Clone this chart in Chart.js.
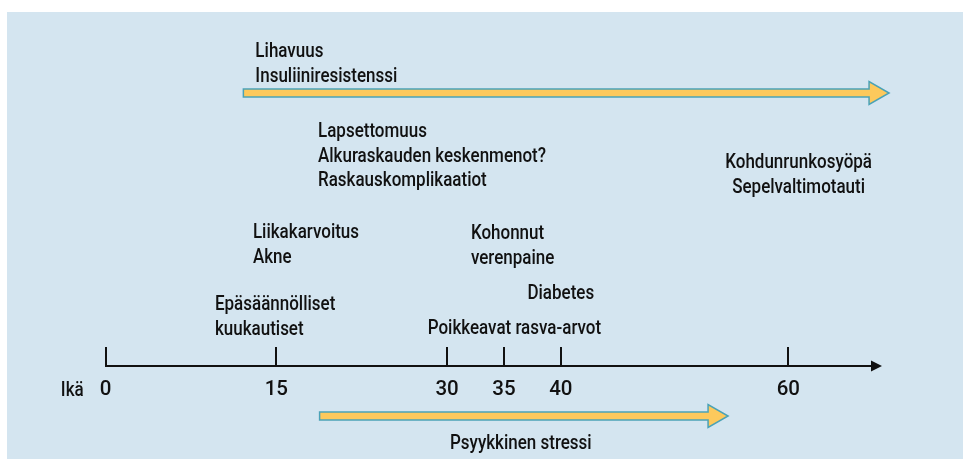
<!DOCTYPE html>
<html><head><meta charset="utf-8">
<script src="https://cdn.jsdelivr.net/npm/chart.js@4/dist/chart.umd.min.js"></script>
<style>html,body{margin:0;padding:0;background:#fff}#wrap{width:963px;height:459px;position:relative}</style>
</head><body><div id="wrap"><canvas id="c"></canvas></div>
<script>
// ---------- DATA ----------
const tickAges = [0, 15, 30, 35, 40, 60];
const axisTitle = 'Ikä';
const axisMaxAge = 67.35;

const arrowLabels = [['Lihavuus', 'Insuliiniresistenssi'], ['Psyykkinen stressi']];
const arrowStartAges = [12.1, 18.8];
const arrowEndAges = [68.85, 54.7];

const eventLabels = [
  ['Lapsettomuus', 'Alkuraskauden keskenmenot?', 'Raskauskomplikaatiot'],
  ['Kohdunrunkosyöpä', 'Sepelvaltimotauti'],
  ['Liikakarvoitus', 'Akne'],
  ['Kohonnut', 'verenpaine'],
  ['Diabetes'],
  ['Epäsäännölliset', 'kuukautiset'],
  ['Poikkeavat rasva-arvot']
];
const eventAges = [18.66, 60.9, 12.94, 32.1, 40.0, 9.6, 28.3];

// ---------- LAYOUT / STYLE ----------
const FONT = 'Roboto, "Liberation Sans", sans-serif';
const FONT_SIZE = 20.5;
const FONT_WEIGHT = 500;
const LINE_H = 24.5;
const TEXT_COLOR = '#111111';
const CALIB_TEXT = 'Alkuraskauden keskenmenot?';
const CALIB_WIDTH = 228; // condensed look of the original typeface
const L = {
  panel: { x: 7, y: 12, color: '#d4e5f0' },
  axisY: 366,
  arrowY: [93, 416],
  arrowLabelBaseline: [57, 449],
  arrowLabelAlign: ['left', 'center'],
  eventAlign: ['left', 'center', 'left', 'left', 'center', 'left', 'left'],
  eventBaseline: [137, 168, 238, 239, 299, 310, 334],
  arrowFill: '#fdc95c',
  arrowStroke: '#4ba2b7'
};
let textScaleX = 1;

const bgPlugin = {
  id: 'bg',
  beforeDraw(chart) {
    const { ctx, width, height } = chart;
    ctx.save();
    ctx.fillStyle = '#ffffff';
    ctx.fillRect(0, 0, width, height);
    ctx.fillStyle = L.panel.color;
    ctx.fillRect(L.panel.x, L.panel.y, width - L.panel.x, height - L.panel.y);
    ctx.restore();
  }
};

function drawArrow(ctx, x0, x1, y) {
  const sh = 4, hh = 11.5, hl = 20;
  ctx.beginPath();
  ctx.moveTo(x0, y - sh);
  ctx.lineTo(x1 - hl, y - sh);
  ctx.lineTo(x1 - hl, y - hh);
  ctx.lineTo(x1, y);
  ctx.lineTo(x1 - hl, y + hh);
  ctx.lineTo(x1 - hl, y + sh);
  ctx.lineTo(x0, y + sh);
  ctx.closePath();
  ctx.fillStyle = L.arrowFill;
  ctx.fill();
  ctx.lineWidth = 1.5;
  ctx.strokeStyle = L.arrowStroke;
  ctx.lineJoin = 'miter';
  ctx.stroke();
}

function drawBlock(ctx, lines, x, align, baseline) {
  ctx.textAlign = align;
  ctx.textBaseline = 'alphabetic';
  lines.forEach((t, i) => {
    ctx.save();
    ctx.translate(x, baseline + i * LINE_H);
    ctx.scale(textScaleX, 1);
    ctx.fillText(t, 0, 0);
    ctx.restore();
  });
}

const annotPlugin = {
  id: 'annot',
  afterDraw(chart) {
    const { ctx } = chart;
    const xs = chart.scales.x, ys = chart.scales.y;
    ctx.save();
    ctx.font = FONT_WEIGHT + ' ' + FONT_SIZE + 'px ' + FONT;
    textScaleX = CALIB_WIDTH / ctx.measureText(CALIB_TEXT).width;

    // axis arrow head
    const ay = ys.getPixelForValue(L.axisY);
    const xr = xs.right;
    ctx.fillStyle = '#111';
    ctx.beginPath();
    ctx.moveTo(xr - 1, ay - 5.5);
    ctx.lineTo(xr + 10, ay);
    ctx.lineTo(xr - 1, ay + 5.5);
    ctx.closePath();
    ctx.fill();

    ctx.fillStyle = TEXT_COLOR;
    // axis title
    drawBlock(ctx, [axisTitle], xs.getPixelForValue(0) - 22, 'right', 396);

    // arrows
    arrowStartAges.forEach((s, i) => {
      const x0 = xs.getPixelForValue(s), x1 = xs.getPixelForValue(arrowEndAges[i]);
      drawArrow(ctx, x0, x1, ys.getPixelForValue(L.arrowY[i]));
      ctx.fillStyle = TEXT_COLOR;
      const lx = L.arrowLabelAlign[i] === 'left' ? x0 + 12 : (x0 + x1) / 2 - 3;
      drawBlock(ctx, arrowLabels[i], lx, L.arrowLabelAlign[i], ys.getPixelForValue(L.arrowLabelBaseline[i]));
    });

    // event labels
    ctx.fillStyle = TEXT_COLOR;
    eventLabels.forEach((lines, i) => {
      drawBlock(ctx, lines, xs.getPixelForValue(eventAges[i]), L.eventAlign[i], ys.getPixelForValue(L.eventBaseline[i]));
    });
    ctx.restore();
  }
};

new Chart(document.getElementById('c'), {
  type: 'scatter',
  data: { datasets: [] },
  options: {
    responsive: true,
    maintainAspectRatio: false,
    animation: false,
    layout: { padding: { left: 105.7, right: 91, top: 0, bottom: 0 } },
    plugins: { legend: { display: false }, tooltip: { enabled: false } },
    scales: {
      y: { type: 'linear', min: 0, max: 459, reverse: true, display: false },
      x: {
        type: 'linear', min: 0, max: axisMaxAge,
        position: { y: L.axisY },
        afterBuildTicks: s => { s.ticks = tickAges.map(v => ({ value: v })); },
        border: { display: true, color: '#111', width: 2 },
        grid: { drawOnChartArea: false, drawTicks: true, tickLength: -20, color: '#111', lineWidth: 2 },
        ticks: {
          color: TEXT_COLOR, autoSkip: false, maxRotation: 0, padding: 32,
          font: { family: FONT, size: FONT_SIZE, weight: FONT_WEIGHT, lineHeight: 1.2 },
          callback: v => String(v)
        }
      }
    }
  },
  plugins: [bgPlugin, annotPlugin]
});
</script>
</body></html>
